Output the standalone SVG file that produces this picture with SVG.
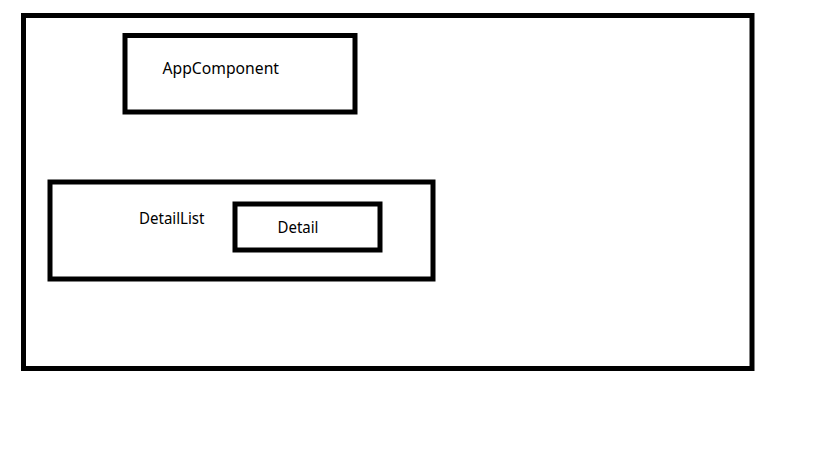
<svg xmlns="http://www.w3.org/2000/svg" width="819" height="460" viewBox="0 0 819 460">
<style>
.box{fill:none;stroke:#000;stroke-width:5}
.lbl{font-family:"Noto Sans","Liberation Sans",sans-serif;font-size:15.5px;fill:#000}
</style>
<rect width="819" height="460" fill="#fff"/>
<g id="outer"><rect class="box" x="23.5" y="15.5" width="728.5" height="353"/></g>
<g id="app"><rect class="box" x="125" y="35.5" width="230" height="76.5"/><text class="lbl" x="162.5" y="73.5" textLength="116.5" lengthAdjust="spacingAndGlyphs">AppComponent</text></g>
<g id="detaillist"><rect class="box" x="50" y="182" width="383" height="97"/><text class="lbl" x="139" y="224" textLength="65.5" lengthAdjust="spacingAndGlyphs">DetailList</text></g>
<g id="detail"><rect class="box" x="235" y="204" width="145" height="46"/><text class="lbl" x="277.5" y="232.5" textLength="41" lengthAdjust="spacingAndGlyphs">Detail</text></g>
<g id="connectors"/>
</svg>
